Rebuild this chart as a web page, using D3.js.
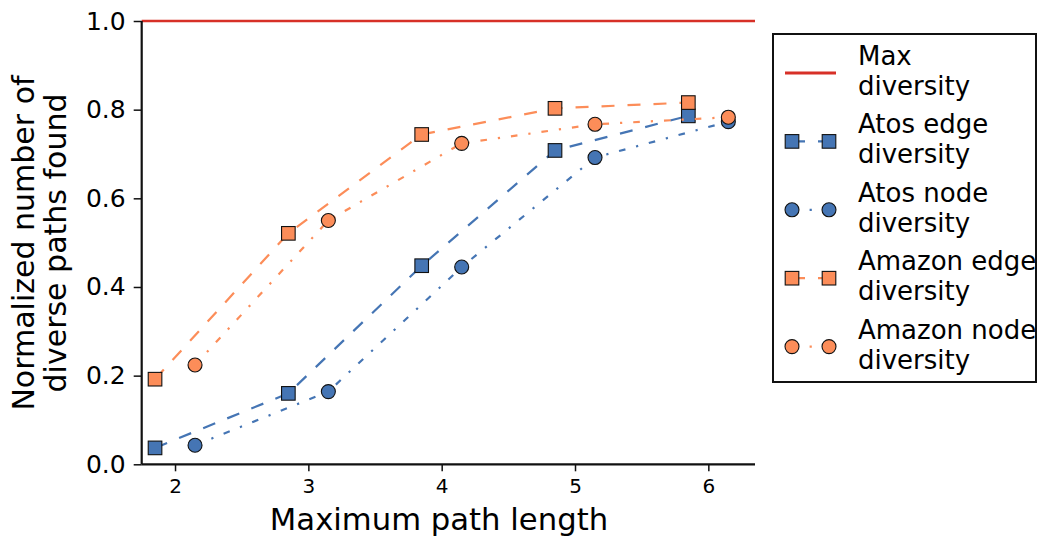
<!DOCTYPE html>
<html>
<head>
<meta charset="utf-8">
<script src="https://cdn.jsdelivr.net/npm/d3@7"></script>
<style>
  html, body { margin: 0; padding: 0; background: #fff; }
  svg { display: block; font-family: "DejaVu Sans", sans-serif; }
</style>
</head>
<body>
<svg id="chart" width="1040" height="538"></svg>
<script>
// ---- data ----
const pathLengths = [2, 3, 4, 5, 6];
const xTicks = [2, 3, 4, 5, 6];
const yTicks = [0.0, 0.2, 0.4, 0.6, 0.8, 1.0];
const maxDiversity = 1.0;
const atosEdge   = [0.037, 0.160, 0.448, 0.708, 0.786];
const atosNode   = [0.043, 0.164, 0.445, 0.692, 0.773];
const amazonEdge = [0.192, 0.521, 0.744, 0.803, 0.816];
const amazonNode = [0.224, 0.550, 0.724, 0.767, 0.783];
const seriesNames = ["Atos edge\ndiversity", "Atos node\ndiversity", "Amazon edge\ndiversity", "Amazon node\ndiversity"];
const maxLabel = "Max\ndiversity";
const xLabel = "Maximum path length";
const yLabel = ["Normalized number of", "diverse paths found"];

// ---- styles ----
const BLUE = "#4575b4", ORANGE = "#fc8d59", RED = "#d73027";
const DASH = "13,13", DASHDOT = "6.6,11,2.2,11";
const series = [
  { name: seriesNames[0], values: atosEdge,   color: BLUE,   shape: "square", dash: DASH,    offset: -0.15 },
  { name: seriesNames[1], values: atosNode,   color: BLUE,   shape: "circle", dash: DASHDOT, offset:  0.15 },
  { name: seriesNames[2], values: amazonEdge, color: ORANGE, shape: "square", dash: DASH,    offset: -0.15 },
  { name: seriesNames[3], values: amazonNode, color: ORANGE, shape: "circle", dash: DASHDOT, offset:  0.15 }
];

const svg = d3.select("#chart");
const L = 141.7, R = 755, T = 21, B = 464.3;
const x = d3.scaleLinear().domain([1.75, 6.35]).range([L, R]);
const y = d3.scaleLinear().domain([0, 1]).range([B, T]);

// max line
svg.append("line")
  .attr("x1", x(1.75)).attr("x2", x(6.35))
  .attr("y1", y(maxDiversity)).attr("y2", y(maxDiversity))
  .attr("stroke", RED).attr("stroke-width", 2.5);

function drawMarker(g, shape, cx, cy, color) {
  if (shape === "square") {
    g.append("rect").attr("x", cx - 6.8).attr("y", cy - 6.8)
      .attr("width", 13.6).attr("height", 13.6)
      .attr("fill", color).attr("stroke", "#111").attr("stroke-width", 1.1);
  } else {
    g.append("circle").attr("cx", cx).attr("cy", cy).attr("r", 7)
      .attr("fill", color).attr("stroke", "#111").attr("stroke-width", 1.1);
  }
}

const line = d3.line().curve(d3.curveLinear);
series.forEach(s => {
  const pts = pathLengths.map((p, i) => [x(p + s.offset), y(s.values[i])]);
  const g = svg.append("g");
  g.append("path").attr("d", line(pts))
    .attr("fill", "none").attr("stroke", s.color)
    .attr("stroke-width", 2.2).attr("stroke-dasharray", s.dash);
  pts.forEach(pt => drawMarker(g, s.shape, pt[0], pt[1], s.color));
});

// axes
const yAxis = d3.axisLeft(y).tickValues(yTicks).tickFormat(d3.format(".1f")).tickSize(8).tickPadding(8);
const xAxis = d3.axisBottom(x).tickValues(xTicks).tickFormat(d3.format("d")).tickSize(7).tickPadding(8);

const gy = svg.append("g").attr("transform", `translate(${L},0)`).call(yAxis);
gy.select(".domain").attr("d", `M0,${B}V${T}`).attr("stroke", "#111").attr("stroke-width", 2.2);
gy.selectAll(".tick line").attr("stroke", "#111").attr("stroke-width", 1.5);
gy.selectAll(".tick text").attr("font-size", 25).attr("fill", "#000")
  .attr("font-family", "DejaVu Sans");

const gx = svg.append("g").attr("transform", `translate(0,${B})`).call(xAxis);
gx.select(".domain").attr("d", `M${L},0H${R}`).attr("stroke", "#111").attr("stroke-width", 2.2);
gx.selectAll(".tick line").attr("stroke", "#111").attr("stroke-width", 1.5);
gx.selectAll(".tick text").attr("font-size", 20).attr("fill", "#000")
  .attr("font-family", "DejaVu Sans");

// axis labels
svg.append("text").attr("x", 439).attr("y", 530)
  .attr("text-anchor", "middle").attr("font-size", 30.7).text(xLabel);
const yl = svg.append("text").attr("transform", "rotate(-90)")
  .attr("text-anchor", "middle").attr("font-size", 30);
yLabel.forEach((t, i) => {
  yl.append("tspan").attr("x", -243).attr("y", 34 + i * 32).text(t);
});

// legend
const lg = svg.append("g");
lg.append("rect").attr("x", 773).attr("y", 34).attr("width", 263).attr("height", 348)
  .attr("fill", "#fff").attr("stroke", "#111").attr("stroke-width", 2);
const rowY0 = 73, rowStep = 68.4, hx1 = 792, hx2 = 829, tx = 858;
function legendText(label, ry) {
  const t = lg.append("text").attr("font-size", 26);
  label.split("\n").forEach((s, i) => {
    t.append("tspan").attr("x", tx).attr("y", ry - 8 + i * 30).text(s);
  });
}
lg.append("line").attr("x1", 785).attr("x2", 836).attr("y1", rowY0).attr("y2", rowY0)
  .attr("stroke", RED).attr("stroke-width", 3);
legendText(maxLabel, rowY0);
series.forEach((s, i) => {
  const ry = rowY0 + rowStep * (i + 1);
  lg.append("line").attr("x1", hx1).attr("x2", hx2).attr("y1", ry).attr("y2", ry)
    .attr("stroke", s.color).attr("stroke-width", 2.2).attr("stroke-dasharray", s.dash);
  drawMarker(lg, s.shape, hx1, ry, s.color);
  drawMarker(lg, s.shape, hx2, ry, s.color);
  legendText(s.name, ry);
});
</script>
</body>
</html>
